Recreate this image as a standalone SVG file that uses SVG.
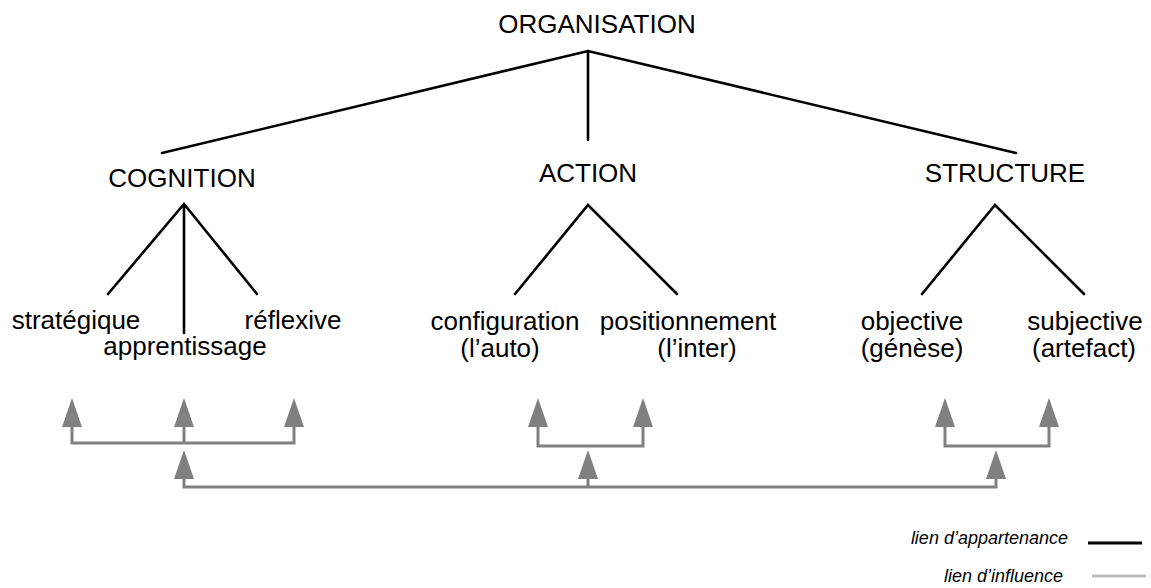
<svg xmlns="http://www.w3.org/2000/svg" width="1151" height="588" viewBox="0 0 1151 588">
<defs>
<style>
.t{font-family:"Liberation Sans",Arial,sans-serif;font-size:26px;fill:#000;text-anchor:middle}
.lg{font-family:"Liberation Sans",Arial,sans-serif;font-size:18px;font-style:italic;fill:#000;text-anchor:end}
.b{stroke:#000;stroke-width:2.6;fill:none;stroke-linecap:round}
.g{stroke:#808080;stroke-width:3;fill:none;marker-end:url(#ah)}
</style>
<marker id="ah" markerUnits="userSpaceOnUse" viewBox="0 -10 29 20" refX="0" refY="0" markerWidth="29" markerHeight="20" orient="auto">
<path d="M0,-10 L29,0 L0,10 z" fill="#808080"/>
</marker>
</defs>
<rect width="1151" height="588" fill="#fff"/>
<g id="organisation"><text class="t" x="597" y="33">ORGANISATION</text></g>
<g id="cognition"><text class="t" x="182" y="187">COGNITION</text></g>
<g id="action"><text class="t" x="588" y="182">ACTION</text></g>
<g id="structure"><text class="t" x="1005" y="182">STRUCTURE</text></g>
<g id="strategique"><text class="t" x="76" y="329">stratégique</text></g>
<g id="apprentissage"><text class="t" x="185" y="355">apprentissage</text></g>
<g id="reflexive"><text class="t" x="293" y="329">réflexive</text></g>
<g id="configuration"><text class="t" x="505" y="330">configuration</text><text class="t" x="500" y="357">(l’auto)</text></g>
<g id="positionnement"><text class="t" x="688" y="330">positionnement</text><text class="t" x="697" y="357">(l’inter)</text></g>
<g id="objective"><text class="t" x="912" y="330">objective</text><text class="t" x="912" y="357">(génèse)</text></g>
<g id="subjective"><text class="t" x="1085" y="330">subjective</text><text class="t" x="1084" y="357">(artefact)</text></g>
<g id="connectors">
<path class="b" d="M162,153 L588,51 L1016,153 M588,51 V140"/>
<path class="b" d="M108,294 L184,204 L257,294 M184,204 V333"/>
<path class="b" d="M515,294 L588,205 L677,294"/>
<path class="b" d="M922,294 L995,205 L1084,294"/>
<path class="g" d="M184,443 H72 V427"/>
<path class="g" d="M184,443 V427"/>
<path class="g" d="M184,443 H294 V427"/>
<path class="g" d="M588,446 H538 V427"/>
<path class="g" d="M588,446 H643 V427"/>
<path class="g" d="M996,446 H945 V427"/>
<path class="g" d="M996,446 H1049 V427"/>
<path class="g" d="M588,487 H184 V479"/>
<path class="g" d="M588,487 V479"/>
<path class="g" d="M588,487 H996 V479"/>
</g>
<g id="legend">
<text class="lg" x="1068" y="544">lien d’appartenance</text>
<line x1="1088" y1="543" x2="1142" y2="543" stroke="#000" stroke-width="3"/>
<text class="lg" x="1063" y="582">lien d’influence</text>
<line x1="1092" y1="576" x2="1146" y2="576" stroke="#bbbbbb" stroke-width="3"/>
</g>
</svg>
